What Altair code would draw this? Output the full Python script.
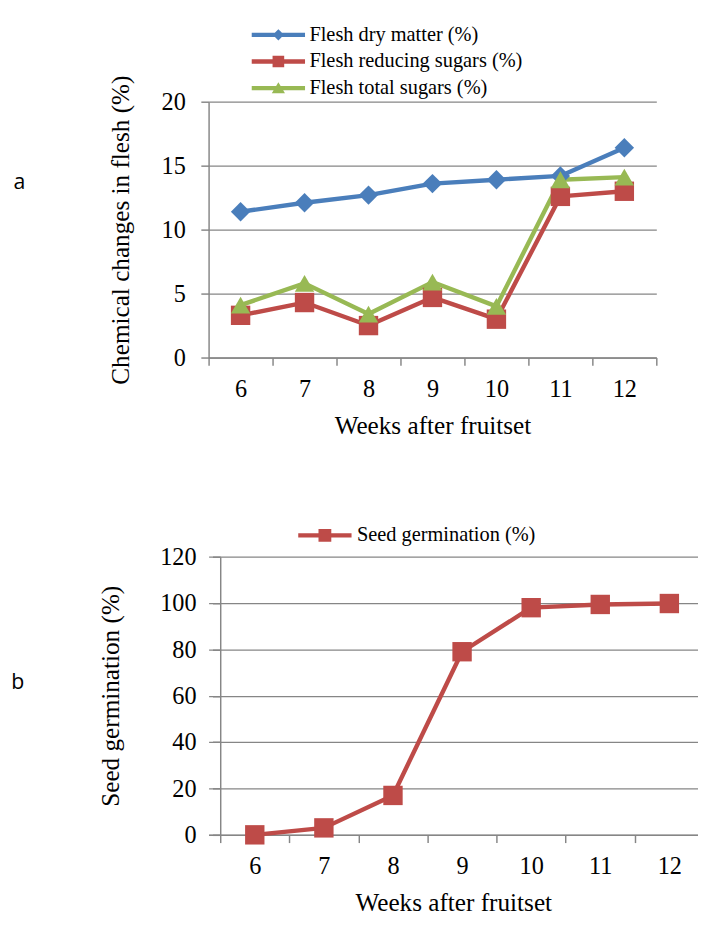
import altair as alt
import pandas as pd

# ---------------- data ----------------
weeks = [6, 7, 8, 9, 10, 11, 12]
flesh_dry_matter = [11.4, 12.1, 12.7, 13.6, 13.9, 14.2, 16.4]
flesh_reducing_sugars = [3.3, 4.3, 2.5, 4.7, 3.0, 12.6, 13.0]
flesh_total_sugars = [4.1, 5.8, 3.4, 5.9, 4.0, 13.9, 14.1]
seed_germination = [0, 3, 17, 79, 98, 99.4, 99.8]

series_a = ["Flesh dry matter (%)", "Flesh reducing sugars (%)", "Flesh total sugars (%)"]
series_b = ["Seed germination (%)"]
colors_a = ["#4A7EBB", "#BE4B48", "#98B954"]
colors_b = ["#BE4B48"]
y_ticks_a = [0, 5, 10, 15, 20]
y_ticks_b = [0, 20, 40, 60, 80, 100, 120]
x_title = "Weeks after fruitset"
y_title_a = "Chemical changes in flesh (%)"
y_title_b = "Seed germination (%)"

# ---------------- style ----------------
SERIF = "Liberation Serif, Times New Roman, serif"
GRAY = "#868686"

df_a = pd.DataFrame({
    "week": weeks * 3,
    "value": flesh_dry_matter + flesh_reducing_sugars + flesh_total_sugars,
    "series": [s for s in series_a for _ in weeks],
})
df_b = pd.DataFrame({"week": weeks, "value": seed_germination,
                     "series": [series_b[0]] * len(weeks)})

LINE = "M-2.75,-0.22L2.75,-0.22L2.75,0.22L-2.75,0.22Z"
legend_paths_a = [
    LINE + "M0,-0.58L0.58,0L0,0.58L-0.58,0Z",
    LINE + "M-0.6,-0.6L0.6,-0.6L0.6,0.6L-0.6,0.6Z",
    LINE + "M0,-0.62L0.68,0.52L-0.68,0.52Z",
]
legend_paths_b = [LINE + "M-0.66,-0.66L0.66,-0.66L0.66,0.66L-0.66,0.66Z"]


def panel(df, series, colors, shapes, legend_paths, y_vals, y_title,
          x_domain, x_ticks, width, height, leg_x, leg_y, leg_label_offset,
          y_label_pad, y_title_pad, y_offset, tag, tag_offset, tag_dy,
          label_expr=None):
    y_scale = alt.Scale(domain=[y_vals[0], y_vals[-1]], nice=False, zero=True)
    y_axis = alt.Axis(values=y_vals, title=y_title, grid=True, gridColor=GRAY,
                      gridWidth=1.3, domainColor=GRAY, domainWidth=1.5,
                      tickColor=GRAY, tickWidth=1.5, tickSize=8, offset=y_offset,
                      labelFont=SERIF, labelFontSize=25, labelColor="black",
                      labelFontWeight="normal", labelFontStyle="normal",
                      labelPadding=y_label_pad, labelFlush=False,
                      titleFont=SERIF, titleFontSize=26, titleFontWeight="normal",
                      titleColor="black", titlePadding=y_title_pad)
    x_scale = alt.Scale(domain=x_domain, nice=False, zero=False)
    x_label_axis = alt.Axis(values=weeks, title=x_title, orient="bottom",
                            ticks=False, tickSize=0, grid=False, domainColor=GRAY,
                            domainWidth=1.5, labelFont=SERIF, labelFontSize=25,
                            labelFontWeight="normal", labelFontStyle="normal",
                            labelColor="black", labelPadding=20, labelFlush=False,
                            labelOverlap=False, format="d",
                            titleFont=SERIF, titleFontSize=26,
                            titleFontWeight="normal", titleColor="black",
                            titlePadding=12)
    x_tick_axis = alt.Axis(values=x_ticks, title=None, orient="bottom",
                           labels=False, ticks=True, tickSize=8, tickColor=GRAY,
                           tickWidth=1.5, domain=False, grid=False)
    color_scale = alt.Scale(domain=series, range=colors)

    line = alt.Chart(df).mark_line(strokeWidth=4.5, strokeJoin="round",
                                   strokeCap="round").encode(
        x=alt.X("week:Q", scale=x_scale, axis=x_label_axis),
        y=alt.Y("value:Q", scale=y_scale, axis=y_axis),
        color=alt.Color("series:N", scale=color_scale, legend=None),
    )
    points = alt.Chart(df).mark_point(filled=True, size=400, opacity=1).encode(
        x=alt.X("week:Q", scale=x_scale, axis=x_tick_axis),
        y=alt.Y("value:Q", scale=y_scale, axis=y_axis),
        color=alt.Color("series:N", scale=color_scale, legend=None),
        shape=alt.Shape("series:N", scale=alt.Scale(domain=series, range=shapes),
                        legend=None),
    )
    leg_kw = dict(orient="none", legendX=leg_x, legendY=leg_y, title=None,
                  padding=0, labelFont=SERIF, labelFontSize=21, labelColor="black",
                  labelOffset=leg_label_offset, rowPadding=5.5, symbolSize=400,
                  symbolStrokeWidth=0, symbolOpacity=1, labelLimit=0)
    if label_expr:
        leg_kw["labelExpr"] = label_expr
    legend_def = alt.Legend(**leg_kw)
    key = alt.Chart(pd.DataFrame({"series": series})).mark_point(
        filled=True, size=400, opacity=1).encode(
        color=alt.Color("series:N", scale=alt.Scale(domain=series, range=colors),
                        legend=legend_def),
        shape=alt.Shape("series:N", scale=alt.Scale(domain=series, range=legend_paths),
                        legend=legend_def),
    ).transform_filter("false")

    return alt.layer(line, points, key).resolve_scale(
        shape="independent", color="independent").resolve_axis(
        x="independent").properties(
        width=width, height=height,
        title=alt.TitleParams(tag, orient="left", angle=0, align="center",
                              baseline="middle", anchor="middle", frame="group",
                              offset=tag_offset, dy=tag_dy))


# top panel: plot area 462 wide, 7 bands of 66 px
top = panel(df_a, series_a, colors_a, ["diamond", "square", "triangle-up"],
            legend_paths_a, y_ticks_a, y_title_a,
            [5.5, 12.5], [w - 0.5 for w in weeks] + [weeks[-1] + 0.5],
            462, 264, 61.5, -79.5, 21.5, 16, 29, 0, "a", 79, -49,
            label_expr="datum.label == 'Flesh reducing sugars (%)' ? '\u00a0' + datum.label : datum.label")

# bottom panel: axis sits 12 px right of the shared origin, bands of 71.3 px
step_b = 71.3
inset_b = 12
width_b = 505
bottom = panel(df_b, series_b, colors_b, ["square"], legend_paths_b,
               y_ticks_b, y_title_b,
               [5.5 - inset_b / step_b, 5.5 + (width_b - inset_b) / step_b],
               [w - 0.5 for w in weeks],
               width_b, 287, 109.5, -32.5, 22.5, 17, 37, -inset_b, "b", 70, -13.5)

chart = alt.concat(top, bottom, columns=1, spacing=89.5).resolve_scale(
    color="independent", fill="independent", shape="independent"
).properties(
    padding={"left": 3, "top": 2, "right": 0, "bottom": 0}
).configure(
    font=SERIF,
    style={"guide-label": {"font": SERIF}, "guide-title": {"font": SERIF}},
).configure_axis(
    labelFont=SERIF, titleFont=SERIF
).configure_legend(labelFont=SERIF).configure_title(
    font="Open Sans", fontSize=22, fontWeight="normal", color="black"
).configure_view(stroke=None)

chart.save("out.html", embed_options={"renderer": "svg", "actions": False})
